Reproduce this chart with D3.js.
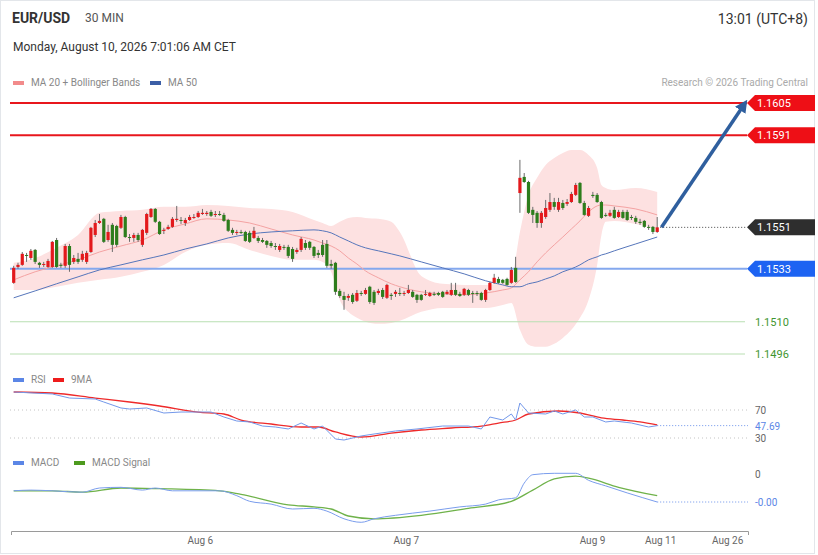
<!DOCTYPE html>
<html lang="en">
<head>
  <meta charset="UTF-8">
  <title>EUR/USD 30 MIN</title>
  <style>
    body { margin: 0; background: #fff; }
    svg { font-family: Roboto, "Liberation Sans", Arial, sans-serif; }
  </style>
</head>
<body>
  <svg width="818" height="555"></svg>
  <script src="https://cdn.jsdelivr.net/npm/d3@7/dist/d3.min.js"></script>
  <script>
    // candles, 30 min, index 0..150
    var open = [
      1.15269,1.15338,1.15347,1.15390,1.15377,1.15412,1.15356,1.15347,1.15338,1.15338,
      1.15455,1.15347,1.15343,1.15429,1.15360,1.15373,1.15369,1.15360,1.15403,1.15477,
      1.15529,1.15547,1.15455,1.15521,1.15516,1.15508,1.15555,1.15468,1.15464,1.15477,
      1.15434,1.15486,1.15555,1.15590,1.15534,1.15495,1.15503,1.15512,1.15542,1.15542,
      1.15529,1.15542,1.15551,1.15555,1.15568,1.15568,1.15577,1.15564,1.15568,1.15564,
      1.15542,1.15499,1.15486,1.15490,1.15490,1.15486,1.15464,1.15464,1.15455,1.15451,
      1.15442,1.15429,1.15412,1.15425,1.15425,1.15416,1.15403,1.15412,1.15442,1.15447,
      1.15425,1.15399,1.15434,1.15438,1.15351,1.15356,1.15234,1.15212,1.15204,1.15217,
      1.15191,1.15225,1.15221,1.15252,1.15230,1.15225,1.15238,1.15204,1.15217,1.15221,
      1.15225,1.15221,1.15225,1.15230,1.15217,1.15217,1.15217,1.15212,1.15221,1.15225,
      1.15230,1.15221,1.15217,1.15238,1.15221,1.15217,1.15238,1.15225,1.15225,1.15225,
      1.15195,1.15238,1.15269,1.15286,1.15282,1.15286,1.15269,1.15334,1.15659,1.15729,
      1.15707,1.15586,1.15573,1.15529,1.15555,1.15586,1.15620,1.15586,1.15616,1.15612,
      1.15620,1.15651,1.15703,1.15616,1.15560,1.15651,1.15651,1.15620,1.15564,1.15560,
      1.15586,1.15555,1.15577,1.15577,1.15555,1.15551,1.15534,1.15538,1.15512,1.15512,
      1.15490
    ]
    var high = [
      1.15343,1.15356,1.15403,1.15399,1.15416,1.15416,1.15360,1.15360,1.15373,1.15451,
      1.15464,1.15356,1.15438,1.15438,1.15390,1.15399,1.15408,1.15408,1.15512,1.15542,
      1.15568,1.15551,1.15521,1.15529,1.15521,1.15564,1.15560,1.15481,1.15486,1.15486,
      1.15503,1.15573,1.15594,1.15594,1.15538,1.15508,1.15521,1.15555,1.15603,1.15555,
      1.15551,1.15564,1.15568,1.15581,1.15590,1.15581,1.15586,1.15581,1.15581,1.15573,
      1.15547,1.15508,1.15499,1.15499,1.15495,1.15495,1.15512,1.15473,1.15464,1.15455,
      1.15451,1.15442,1.15438,1.15434,1.15434,1.15425,1.15421,1.15468,1.15455,1.15451,
      1.15429,1.15412,1.15455,1.15455,1.15369,1.15360,1.15243,1.15230,1.15221,1.15225,
      1.15238,1.15234,1.15247,1.15256,1.15238,1.15243,1.15247,1.15265,1.15225,1.15238,
      1.15247,1.15234,1.15260,1.15238,1.15221,1.15221,1.15238,1.15230,1.15230,1.15230,
      1.15234,1.15238,1.15269,1.15269,1.15230,1.15247,1.15243,1.15234,1.15234,1.15230,
      1.15243,1.15273,1.15308,1.15295,1.15286,1.15291,1.15338,1.15382,1.15803,1.15746,
      1.15712,1.15599,1.15581,1.15581,1.15629,1.15659,1.15638,1.15638,1.15629,1.15633,
      1.15664,1.15703,1.15707,1.15625,1.15603,1.15664,1.15659,1.15625,1.15573,1.15586,
      1.15599,1.15586,1.15586,1.15586,1.15564,1.15560,1.15547,1.15542,1.15521,1.15516,
      1.15555
    ]
    var low = [
      1.15265,1.15330,1.15343,1.15360,1.15369,1.15351,1.15334,1.15338,1.15334,1.15334,
      1.15334,1.15334,1.15334,1.15317,1.15351,1.15351,1.15360,1.15351,1.15399,1.15468,
      1.15525,1.15442,1.15447,1.15403,1.15425,1.15503,1.15464,1.15447,1.15447,1.15447,
      1.15425,1.15477,1.15551,1.15529,1.15477,1.15481,1.15499,1.15508,1.15534,1.15525,
      1.15516,1.15538,1.15547,1.15551,1.15564,1.15560,1.15555,1.15555,1.15560,1.15534,
      1.15490,1.15477,1.15477,1.15481,1.15447,1.15442,1.15460,1.15442,1.15442,1.15421,
      1.15421,1.15412,1.15403,1.15412,1.15377,1.15360,1.15395,1.15403,1.15412,1.15412,
      1.15377,1.15377,1.15382,1.15334,1.15330,1.15217,1.15204,1.15152,1.15191,1.15178,
      1.15186,1.15212,1.15217,1.15178,1.15173,1.15217,1.15199,1.15199,1.15195,1.15208,
      1.15212,1.15212,1.15221,1.15204,1.15182,1.15191,1.15212,1.15208,1.15212,1.15212,
      1.15204,1.15217,1.15212,1.15212,1.15208,1.15212,1.15212,1.15182,1.15212,1.15191,
      1.15186,1.15234,1.15265,1.15265,1.15265,1.15256,1.15265,1.15269,1.15573,1.15703,
      1.15568,1.15529,1.15508,1.15508,1.15547,1.15577,1.15586,1.15577,1.15586,1.15603,
      1.15616,1.15646,1.15612,1.15560,1.15555,1.15638,1.15616,1.15547,1.15555,1.15555,
      1.15547,1.15551,1.15547,1.15538,1.15542,1.15525,1.15521,1.15508,1.15499,1.15481,
      1.15486
    ]
    var close = [
      1.15334,1.15347,1.15395,1.15386,1.15408,1.15360,1.15347,1.15351,1.15364,1.15447,
      1.15338,1.15343,1.15429,1.15347,1.15377,1.15360,1.15395,1.15399,1.15508,1.15529,
      1.15538,1.15447,1.15490,1.15434,1.15434,1.15555,1.15468,1.15464,1.15477,1.15455,
      1.15499,1.15568,1.15590,1.15534,1.15481,1.15499,1.15512,1.15547,1.15547,1.15538,
      1.15542,1.15555,1.15555,1.15573,1.15573,1.15573,1.15560,1.15568,1.15564,1.15538,
      1.15495,1.15486,1.15490,1.15486,1.15451,1.15447,1.15495,1.15451,1.15447,1.15434,
      1.15429,1.15425,1.15429,1.15421,1.15386,1.15373,1.15412,1.15460,1.15421,1.15421,
      1.15386,1.15390,1.15390,1.15343,1.15343,1.15230,1.15212,1.15195,1.15212,1.15186,
      1.15225,1.15221,1.15238,1.15186,1.15182,1.15234,1.15208,1.15260,1.15212,1.15230,
      1.15221,1.15225,1.15238,1.15208,1.15195,1.15195,1.15221,1.15225,1.15217,1.15217,
      1.15208,1.15230,1.15238,1.15217,1.15212,1.15243,1.15217,1.15221,1.15221,1.15195,
      1.15238,1.15269,1.15291,1.15269,1.15269,1.15260,1.15325,1.15273,1.15725,1.15707,
      1.15573,1.15564,1.15529,1.15573,1.15594,1.15620,1.15599,1.15620,1.15594,1.15620,
      1.15655,1.15694,1.15616,1.15564,1.15594,1.15646,1.15620,1.15551,1.15560,1.15573,
      1.15551,1.15577,1.15551,1.15542,1.15551,1.15534,1.15529,1.15512,1.15508,1.15490,
      1.15510
    ]

    // MA 20 + Bollinger Bands and MA 50, read at these candle indices
    var bandIdx = [0,5,10,15,20,25,30,35,40,45,50,55,60,65,70,72,74,76,78,80,82,85,88,90,95,100,105,110,114,116,118,120,122,124,126,128,130,132,134,136,137,138,140,145,150]
    var bbUpper = [1.15356,1.15377,1.15421,1.15477,1.15573,1.15581,1.15586,1.15599,1.15599,1.15607,
      1.15603,1.15594,1.15590,1.15577,1.15542,1.15529,1.15516,1.15534,1.15551,1.15555,
      1.15551,1.15547,1.15534,1.15490,1.15299,1.15265,1.15260,1.15260,1.15269,1.15291,
      1.15490,1.15651,1.15725,1.15781,1.15811,1.15833,1.15846,1.15846,1.15824,1.15768,
      1.15694,1.15681,1.15672,1.15681,1.15664]
    var bbLower = [1.15238,1.15238,1.15252,1.15269,1.15282,1.15295,1.15317,1.15347,1.15403,1.15434,
      1.15442,1.15412,1.15386,1.15369,1.15369,1.15360,1.15317,1.15195,1.15143,1.15117,
      1.15100,1.15091,1.15095,1.15104,1.15143,1.15160,1.15160,1.15160,1.15173,1.15182,
      1.15065,1.15000,1.14991,1.14991,1.15004,1.15030,1.15065,1.15117,1.15195,1.15347,
      1.15477,1.15534,1.15538,1.15525,1.15503]
    var ma20 = [1.15282,1.15317,1.15343,1.15369,1.15403,1.15429,1.15455,1.15499,1.15525,1.15547,
      1.15542,1.15529,1.15503,1.15477,1.15455,1.15442,1.15429,1.15408,1.15377,1.15351,
      1.15321,1.15291,1.15265,1.15252,1.15230,1.15221,1.15217,1.15225,1.15238,1.15247,
      1.15282,1.15317,1.15360,1.15399,1.15434,1.15468,1.15503,1.15538,1.15577,1.15603,
      1.15607,1.15607,1.15603,1.15590,1.15564]
    var ma50 = [1.15204,1.15234,1.15265,1.15295,1.15325,1.15347,1.15369,1.15390,1.15416,1.15438,
      1.15464,1.15481,1.15490,1.15495,1.15499,1.15495,1.15486,1.15468,1.15451,1.15434,
      1.15421,1.15408,1.15395,1.15386,1.15360,1.15334,1.15308,1.15278,1.15260,1.15252,
      1.15252,1.15265,1.15273,1.15286,1.15299,1.15317,1.15330,1.15347,1.15369,1.15382,
      1.15390,1.15395,1.15408,1.15438,1.15468]

    // RSI and its 9MA
    var rsiIdx = [0,9,13,19,21,25,27,31,35,39,46,49,52,55,58,61,64,67,70,72,75,77,81,84,89,94,100,106,109,111,114,116,117,118,120,124,126,128,131,133,135,138,140,144,148,150]
    var rsiVal = [95.7,92.9,87.1,85.7,81.4,72.9,71.4,72.9,65.7,67.1,67.1,60,54.3,52.9,47.1,45.7,42.9,51.4,42.9,47.1,28.6,27.1,32.9,35.7,40,42.9,47.1,47.1,42.9,60,55.7,64.3,55.7,80,65.7,64.3,68.6,64.3,70,60,60,52.9,54.3,51.4,45.7,47.69]
    var rsiMaIdx = [0,9,19,27,34,43,49,53,60,67,71,75,81,88,95,102,109,113,117,120,127,132,137,142,146,150]
    var rsiMaVal = [95.7,94.3,87.1,81.4,75.7,67.1,64.3,55.7,50,45.7,45.7,38.6,31.4,37.1,41.4,44.3,47.1,51.4,55.7,64.3,68.6,65.7,58.6,55.7,52.9,48.6]

    // MACD and signal
    var macdIdx = [0,4,9,16,20,25,30,33,37,48,52,55,60,65,70,73,77,81,84,89,97,104,110,113,117,119,121,126,131,134,138,143,150]
    var macdVal = [-0.00024,-0.00023,-0.00024,-0.00026,-0.00020,-0.00019,-0.00023,-0.00020,-0.00024,-0.00024,-0.00031,-0.00039,-0.00043,-0.00050,-0.00049,-0.00053,-0.00064,-0.00069,-0.00064,-0.00059,-0.00053,-0.00047,-0.00043,-0.00037,-0.00034,-0.00013,-0.00001,0.00001,0.00001,-0.00009,-0.00017,-0.00027,-0.00040]
    var signalIdx = [0,9,16,25,34,48,53,64,70,74,78,84,95,106,116,121,126,131,134,141,150]
    var signalVal = [-0.00024,-0.00024,-0.00026,-0.00020,-0.00021,-0.00024,-0.00029,-0.00044,-0.00047,-0.00050,-0.00060,-0.00064,-0.00059,-0.00049,-0.00039,-0.00023,-0.00007,-0.00003,-0.00006,-0.00019,-0.00031]

    // x axis labels (candle index positions)
    var tickIdx = [43.4, 91.4, 134.8, 150.7, 166.3]
    var tickLabels = ['Aug 6', 'Aug 7', 'Aug 9', 'Aug 11', 'Aug 26']

    // key levels
    var resistance = [1.1605, 1.1591]
    var lastPrice = 1.1551
    var pivot = 1.1533
    var support = [1.1510, 1.1496]
    var arrowFrom = [151, 1.1551]
    var arrowTo = [170.5, 1.1605]

    var svg = d3.select('svg')
    var lineEnd = 747

    var x = d3.scaleLinear().domain([0, 150]).range([13.7, 657.2])
    var y = d3.scaleLinear().domain([1.1496, 1.1605]).range([354, 103])
    var yRsi = d3.scaleLinear().domain([30, 70]).range([438, 410])
    var yMacd = d3.scaleLinear().domain([-0.0004, 0]).range([502, 474])

    // frame
    svg.append('rect')
      .attr('x', 0.5).attr('y', 0.5)
      .attr('width', 814).attr('height', 553)
      .attr('fill', 'none')
      .attr('stroke', '#e3e6ea')

    // header
    svg.append('text').attr('x', 12).attr('y', 23)
      .attr('font-size', 14).attr('font-weight', 'bold').attr('fill', '#333')
      .text('EUR/USD')
    svg.append('text').attr('x', 85).attr('y', 22)
      .attr('font-size', 12).attr('fill', '#555')
      .text('30 MIN')
    svg.append('text').attr('x', 808).attr('y', 24)
      .attr('font-size', 14).attr('fill', '#333').attr('text-anchor', 'end')
      .text('13:01 (UTC+8)')
    svg.append('text').attr('x', 13).attr('y', 51)
      .attr('font-size', 12).attr('fill', '#333')
      .text('Monday, August 10, 2026 7:01:06 AM CET')

    function legend(x0, yy, color, label) {
      svg.append('rect').attr('x', x0).attr('y', yy - 5).attr('width', 11).attr('height', 4)
        .attr('fill', color)
      svg.append('text').attr('x', x0 + 18).attr('y', yy)
        .attr('font-size', 10).attr('fill', '#888').text(label)
    }
    legend(13, 86, '#f28b8b', 'MA 20 + Bollinger Bands')
    legend(150, 86, '#3c5fa6', 'MA 50')
    svg.append('text').attr('x', 808).attr('y', 86)
      .attr('font-size', 10).attr('fill', '#aaa').attr('text-anchor', 'end')
      .text('Research \u00a9 2026 Trading Central')

    // bollinger band
    var band = bandIdx.map(function(d, i) {
      return { i: d, up: bbUpper[i], lo: bbLower[i], m20: ma20[i], m50: ma50[i] }
    })
    svg.append('path')
      .datum(band)
      .attr('fill', '#fde1e1')
      .attr('d', d3.area()
        .curve(d3.curveMonotoneX)
        .x(function(d) { return x(d.i) })
        .y0(function(d) { return y(d.lo) })
        .y1(function(d) { return y(d.up) }))

    // level lines
    resistance.forEach(function(p) {
      svg.append('line')
        .attr('x1', 10).attr('x2', lineEnd)
        .attr('y1', y(p)).attr('y2', y(p))
        .attr('stroke', '#e8161c').attr('stroke-width', 2)
    })
    svg.append('line')
      .attr('x1', 10).attr('x2', lineEnd)
      .attr('y1', y(pivot)).attr('y2', y(pivot))
      .attr('stroke', '#84a8ee').attr('stroke-width', 2)
    support.forEach(function(p) {
      svg.append('line')
        .attr('x1', 10).attr('x2', 745)
        .attr('y1', y(p)).attr('y2', y(p))
        .attr('stroke', '#b9dfb2').attr('stroke-width', 1)
      svg.append('text')
        .attr('x', 755).attr('y', y(p) + 4)
        .attr('font-size', 11).attr('fill', '#3f9630')
        .text(p.toFixed(4))
    })
    svg.append('line')
      .attr('x1', x(150) + 3).attr('x2', lineEnd)
      .attr('y1', y(lastPrice)).attr('y2', y(lastPrice))
      .attr('stroke', '#444').attr('stroke-dasharray', '1,2')

    // moving averages
    svg.append('path')
      .datum(band)
      .attr('fill', 'none').attr('stroke', '#f4a3a3').attr('stroke-width', 1)
      .attr('d', d3.line().curve(d3.curveMonotoneX)
        .x(function(d) { return x(d.i) })
        .y(function(d) { return y(d.m20) }))
    svg.append('path')
      .datum(band)
      .attr('fill', 'none').attr('stroke', '#5676bb').attr('stroke-width', 1)
      .attr('d', d3.line().curve(d3.curveMonotoneX)
        .x(function(d) { return x(d.i) })
        .y(function(d) { return y(d.m50) }))

    // candles
    var candles = close.map(function(c, i) {
      return { i: i, o: open[i], h: high[i], l: low[i], c: c }
    })
    var cg = svg.append('g')
    cg.selectAll('.wick')
      .data(candles)
      .enter()
      .append('line')
      .attr('class', 'wick')
      .attr('x1', function(d) { return x(d.i) })
      .attr('x2', function(d) { return x(d.i) })
      .attr('y1', function(d) { return y(d.h) })
      .attr('y2', function(d) { return y(d.l) })
      .attr('stroke', '#6b6b6b')
      .attr('stroke-width', 1)
    cg.selectAll('.body')
      .data(candles)
      .enter()
      .append('rect')
      .attr('class', 'body')
      .attr('x', function(d) { return x(d.i) - 1.6 })
      .attr('width', 3.2)
      .attr('y', function(d) { return y(Math.max(d.o, d.c)) })
      .attr('height', function(d) { return Math.max(1, Math.abs(y(d.o) - y(d.c))) })
      .attr('fill', function(d) { return d.c >= d.o ? '#e3191c' : '#2d7d1c' })

    // forecast arrow
    svg.append('defs').append('marker')
      .attr('id', 'head')
      .attr('viewBox', '0 0 10 10')
      .attr('refX', 7).attr('refY', 5)
      .attr('markerWidth', 3.6).attr('markerHeight', 3.6)
      .attr('orient', 'auto')
      .append('path').attr('d', 'M0,0L10,5L0,10Z').attr('fill', '#2f5f9e')
    svg.append('line')
      .attr('x1', x(arrowFrom[0])).attr('y1', y(arrowFrom[1]))
      .attr('x2', x(arrowTo[0])).attr('y2', y(arrowTo[1]))
      .attr('stroke', '#2f5f9e').attr('stroke-width', 3.5)
      .attr('marker-end', 'url(#head)')

    // price tags
    function tag(p, color) {
      var yy = y(p)
      svg.append('path')
        .attr('d', 'M' + lineEnd + ',' + yy + 'L' + (lineEnd + 8) + ',' + (yy - 8) +
          'H815V' + (yy + 8) + 'H' + (lineEnd + 8) + 'Z')
        .attr('fill', color)
      svg.append('text')
        .attr('x', lineEnd + 10).attr('y', yy + 4)
        .attr('font-size', 11).attr('fill', '#fff')
        .text(p.toFixed(4))
    }
    resistance.forEach(function(p) { tag(p, '#ee0f16') })
    tag(lastPrice, '#2e2e2e')
    tag(pivot, '#1d63f2')

    // RSI panel
    legend(13, 383, '#5b86e6', 'RSI')
    legend(53, 383, '#ee1c1c', '9MA')
    ;[70, 30].forEach(function(v) {
      svg.append('line')
        .attr('x1', 10).attr('x2', 748)
        .attr('y1', yRsi(v)).attr('y2', yRsi(v))
        .attr('stroke', '#c4c4c4').attr('stroke-dasharray', '1,3')
      svg.append('text').attr('x', 755).attr('y', yRsi(v) + 4)
        .attr('font-size', 10).attr('fill', '#666').text(v)
    })
    var rsiLast = rsiVal[rsiVal.length - 1]
    svg.append('line')
      .attr('x1', x(150)).attr('x2', 748)
      .attr('y1', yRsi(rsiLast)).attr('y2', yRsi(rsiLast))
      .attr('stroke', '#6d93ea').attr('stroke-dasharray', '1,2')
    svg.append('text').attr('x', 755).attr('y', yRsi(rsiLast) + 4)
      .attr('font-size', 10).attr('fill', '#5b86e6').text(rsiLast.toFixed(2))
    svg.append('path')
      .datum(rsiMaIdx.map(function(d, i) { return [d, rsiMaVal[i]] }))
      .attr('fill', 'none').attr('stroke', '#ee2a2a').attr('stroke-width', 1.3)
      .attr('d', d3.line().curve(d3.curveMonotoneX)
        .x(function(d) { return x(d[0]) })
        .y(function(d) { return yRsi(d[1]) }))
    svg.append('path')
      .datum(rsiIdx.map(function(d, i) { return [d, rsiVal[i]] }))
      .attr('fill', 'none').attr('stroke', '#7398ea').attr('stroke-width', 1)
      .attr('d', d3.line()
        .x(function(d) { return x(d[0]) })
        .y(function(d) { return yRsi(d[1]) }))

    // MACD panel
    legend(13, 466, '#5b86e6', 'MACD')
    legend(74, 466, '#4d9a1e', 'MACD Signal')
    svg.append('text').attr('x', 755).attr('y', yMacd(0) + 4)
      .attr('font-size', 10).attr('fill', '#666').text('0')
    var macdLast = macdVal[macdVal.length - 1]
    svg.append('line')
      .attr('x1', x(150)).attr('x2', 748)
      .attr('y1', yMacd(macdLast)).attr('y2', yMacd(macdLast))
      .attr('stroke', '#6d93ea').attr('stroke-dasharray', '1,2')
    svg.append('text').attr('x', 755).attr('y', yMacd(macdLast) + 4)
      .attr('font-size', 10).attr('fill', '#5b86e6').text(macdLast.toFixed(2))
    svg.append('path')
      .datum(signalIdx.map(function(d, i) { return [d, signalVal[i]] }))
      .attr('fill', 'none').attr('stroke', '#6fb24a').attr('stroke-width', 1.3)
      .attr('d', d3.line().curve(d3.curveMonotoneX)
        .x(function(d) { return x(d[0]) })
        .y(function(d) { return yMacd(d[1]) }))
    svg.append('path')
      .datum(macdIdx.map(function(d, i) { return [d, macdVal[i]] }))
      .attr('fill', 'none').attr('stroke', '#7a9ded').attr('stroke-width', 1)
      .attr('d', d3.line().curve(d3.curveMonotoneX)
        .x(function(d) { return x(d[0]) })
        .y(function(d) { return yMacd(d[1]) }))

    // x axis
    var xAxisScale = d3.scaleLinear()
      .domain([x.invert(11), x.invert(748)])
      .range([11, 748])
    var ax = svg.append('g')
      .attr('transform', 'translate(0,531)')
      .call(d3.axisBottom(xAxisScale)
        .tickValues(tickIdx)
        .tickFormat(function(d, i) { return tickLabels[i] })
        .tickSizeInner(0)
        .tickSizeOuter(4)
        .tickPadding(6))
    ax.select('.domain').attr('stroke', '#9a9a9a')
    ax.selectAll('text').attr('fill', '#666').attr('font-size', 10)
      .attr('font-family', 'Roboto, "Liberation Sans", Arial, sans-serif')
  </script>
</body>
</html>
